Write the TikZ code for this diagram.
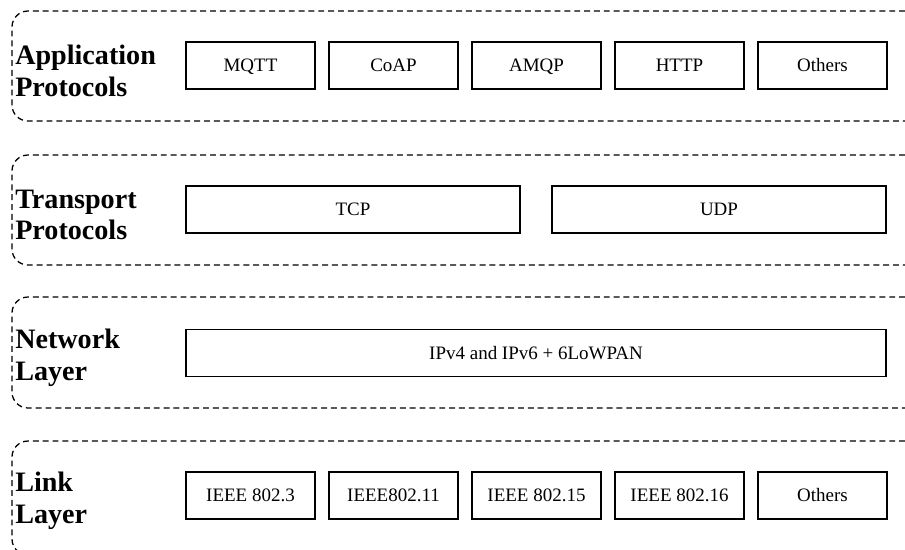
\documentclass[tikz,border=0pt]{standalone}
\usepackage{fontspec}
\setmainfont{Liberation Serif}
\usepackage{tikz}

\tikzset{
  layerline/.style={dashed, dash pattern=on 4.2pt off 2.8pt, line width=0.9pt, rounded corners=0.4cm},
  layerlabel/.style={anchor=west, inner sep=0pt, align=left, font=\fontsize{20}{22.5}\selectfont\bfseries},
  protobox/.style={draw, line width=0.9pt, minimum height=1.175cm, inner sep=0pt,
    text height=10.5pt, text depth=1.5pt, font=\fontsize{13.5}{16}\selectfont}
}

\begin{document}
\begin{tikzpicture}[x=0.025cm, y=-0.025cm]
  \useasboundingbox (0, 0) rectangle (905, 549);
  % dashed layer frames, open on the right
  \foreach \top/\h in {11/110, 155/110, 297/111, 441/114}
    \draw[layerline] (905, \top) -- (12, \top) -- (12, \top + \h) -- (905, \top + \h);
  % layer names
  \node[layerlabel] (app) at (15, 71) {Application\\Protocols};
  \node[layerlabel] (trans) at (15, 215) {Transport\\Protocols};
  \node[layerlabel] (net) at (15, 358) {Network\\Layer};
  \node[layerlabel] (link) at (15, 501) {Link\\Layer};
  % application layer
  \foreach \i/\name in {0/MQTT, 1/CoAP, 2/AMQP, 3/HTTP, 4/Others}
    \node[protobox, minimum width=3.225cm] (app\i) at (250.5 + 143*\i, 65.5) {\name};
  % transport layer
  \node[protobox, minimum width=8.35cm] (tcp) at (353, 209.5) {TCP};
  \node[protobox, minimum width=8.35cm] (udp) at (719, 209.5) {UDP};
  % network layer
  \node[protobox, minimum width=17.5cm] (ip) at (536, 353) {IPv4 and IPv6 + 6LoWPAN};
  % link layer
  \foreach \i/\name in {0/IEEE 802.3, 1/IEEE802.11, 2/IEEE 802.15, 3/IEEE 802.16, 4/Others}
    \node[protobox, minimum width=3.225cm] (link\i) at (250.5 + 143*\i, 495.5) {\name};
\end{tikzpicture}
\end{document}
